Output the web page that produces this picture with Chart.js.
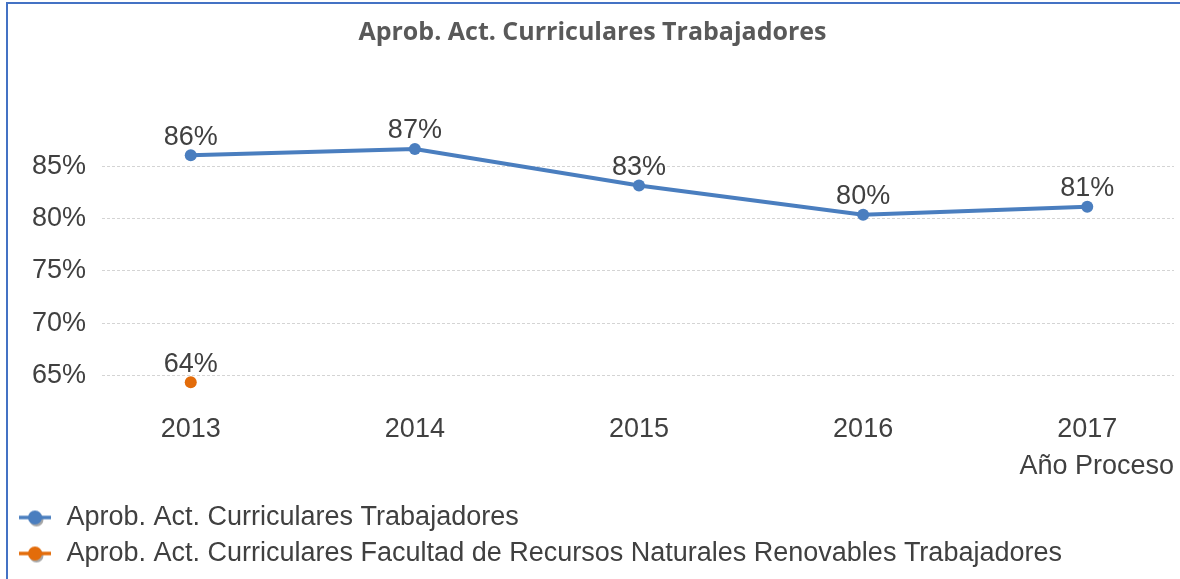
<!DOCTYPE html>
<html lang="es">
<head>
<meta charset="UTF-8">
<title>Aprob. Act. Curriculares Trabajadores</title>
<script src="https://cdn.jsdelivr.net/npm/chart.js@4.4.0/dist/chart.umd.min.js"></script>
<style>
  html, body { margin: 0; padding: 0; background: #fff; overflow: hidden; }
  #wrap { position: absolute; left: 0; top: 0; width: 1180px; height: 579px; }
  #frame { position: absolute; left: 6px; top: 2px; width: 1300px; height: 700px;
           border-left: 2px solid #4472c4; border-top: 2px solid #4472c4; pointer-events: none; }
</style>
</head>
<body>
<div id="wrap"><canvas id="myChart" width="1180" height="579"></canvas></div>
<div id="frame"></div>

<script>
// values (percent)
const years = [2013, 2014, 2015, 2016, 2017];
const trabajadores = [86.05, 86.66, 83.16, 80.38, 81.14];
const facultadRNR = [64.37, null, null, null, null];
const yTicks = [65, 70, 75, 80, 85];

const seriesNames = [
    'Aprob. Act. Curriculares Trabajadores',
    'Aprob. Act. Curriculares Facultad de Recursos Naturales Renovables Trabajadores'
];
const blue = '#4a7ebf';
const orange = '#e36c0a';
const FONT = '"Liberation Sans", Arial, sans-serif';

function toPoints(vals) {
    return years.map((x, i) => ({x: x, y: vals[i]})).filter(p => p.y !== null);
}

// little line + dot marker with a soft shadow, like the office legend
function legendMarker(color) {
    const c = document.createElement('canvas');
    c.width = 36; c.height = 22;
    const g = c.getContext('2d');
    g.fillStyle = 'rgba(0,0,0,0.35)';
    g.beginPath(); g.arc(19.5, 13, 7, 0, Math.PI * 2); g.fill();
    g.strokeStyle = color; g.lineWidth = 3.5;
    g.beginPath(); g.moveTo(2, 11); g.lineTo(34, 11); g.stroke();
    g.fillStyle = color;
    g.beginPath(); g.arc(18, 11, 7, 0, Math.PI * 2); g.fill();
    return c;
}
const markers = [legendMarker(blue), legendMarker(orange)];

// "86%" labels above each point
const valueLabels = {
    id: 'valueLabels',
    afterDatasetsDraw(chart) {
        const ctx = chart.ctx;
        ctx.save();
        ctx.font = '27px ' + FONT;
        ctx.fillStyle = '#404040';
        ctx.textAlign = 'center';
        ctx.textBaseline = 'alphabetic';
        chart.data.datasets.forEach((ds, i) => {
            chart.getDatasetMeta(i).data.forEach((pt, j) => {
                const v = ds.data[j].y;
                ctx.fillText(Math.round(v) + '%', pt.x, pt.y - 10.5);
            });
        });
        ctx.restore();
    }
};

const ctx = document.getElementById('myChart').getContext('2d');
const myChart = new Chart(ctx, {
    type: 'line',
    data: {
        datasets: [{
            label: seriesNames[0],
            data: toPoints(trabajadores),
            borderColor: blue,
            backgroundColor: blue,
            borderWidth: 4,
            pointRadius: 6,
            pointBorderWidth: 0,
            tension: 0
        }, {
            label: seriesNames[1],
            data: toPoints(facultadRNR),
            borderColor: orange,
            backgroundColor: orange,
            borderWidth: 4,
            pointRadius: 6,
            pointBorderWidth: 0
        }]
    },
    options: {
        responsive: false,
        animation: false,
        events: [],
        layout: { padding: { left: 8, right: 3, top: 0, bottom: 2 } },
        scales: {
            x: {
                type: 'linear',
                min: 2012.604,
                max: 2017.387,
                afterBuildTicks: s => { s.ticks = years.map(v => ({value: v})); },
                afterFit: s => { s.height = 88; },
                grid: { display: false, drawTicks: false },
                border: { display: false },
                ticks: {
                    padding: 6,
                    color: '#404040',
                    font: { family: FONT, size: 27 },
                    callback: v => String(v)
                },
                title: {
                    display: true,
                    text: 'Año Proceso',
                    align: 'end',
                    color: '#404040',
                    font: { family: FONT, size: 27 },
                    padding: { top: 0, bottom: 12 }
                }
            },
            y: {
                min: 62,
                max: 90,
                afterBuildTicks: s => { s.ticks = yTicks.map(v => ({value: v})); },
                afterFit: s => { s.width = 94; },
                grid: { color: '#d4d4d4', lineWidth: 1, drawTicks: false },
                border: { display: false, dash: [3, 2] },
                ticks: {
                    padding: 16,
                    color: '#404040',
                    font: { family: FONT, size: 27 },
                    callback: v => v + '%'
                }
            }
        },
        plugins: {
            title: {
                display: true,
                text: 'Aprob. Act. Curriculares Trabajadores',
                color: '#595959',
                font: { family: '"Open Sans", sans-serif', size: 25, weight: 'bold' },
                padding: { top: 18, bottom: 66 }
            },
            legend: {
                position: 'bottom',
                align: 'start',
                labels: {
                    usePointStyle: true,
                    pointStyleWidth: 36,
                    padding: 9,
                    color: '#404040',
                    font: { family: FONT, size: 27 },
                    generateLabels(chart) {
                        const items = Chart.defaults.plugins.legend.labels.generateLabels(chart);
                        items.forEach((it, i) => { it.pointStyle = markers[i]; });
                        return items;
                    }
                }
            },
            tooltip: { enabled: false }
        }
    },
    plugins: [valueLabels]
});
</script>
</body>
</html>
